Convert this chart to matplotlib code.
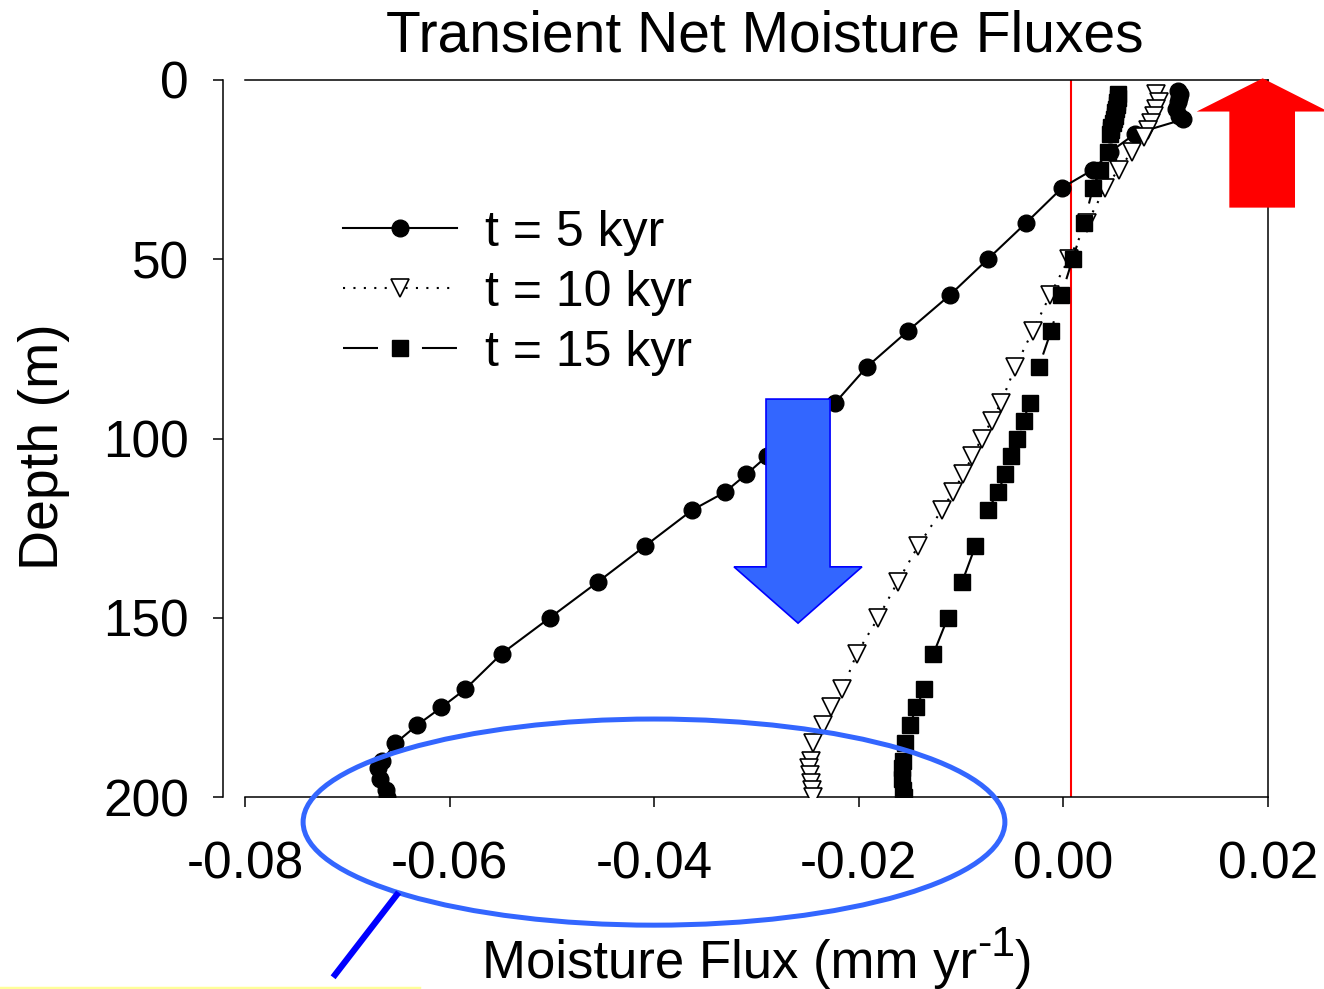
import matplotlib
matplotlib.use("Agg")
import matplotlib.pyplot as plt
from matplotlib.lines import Line2D
from matplotlib.patches import Ellipse, Polygon

plt.rcParams["font.family"] = ["Liberation Sans", "DejaVu Sans"]

# ---------------------------------------------------------------------------
# Data
# ---------------------------------------------------------------------------

t5_depth = [3, 4, 5, 6, 8, 10, 11, 15, 20, 25, 30, 40, 50, 60, 70, 80, 90,
            105, 110, 115, 120, 130, 140, 150, 160, 170, 175, 180, 185, 190,
            192, 195, 198, 200]
t5_flux = [0.0112, 0.0114, 0.0113, 0.0112, 0.0110, 0.0113, 0.0117, 0.0070,
           0.0046, 0.0029, -0.0001, -0.0037, -0.0074, -0.0111, -0.0152,
           -0.0192, -0.0223, -0.0290, -0.0310, -0.0331, -0.0363, -0.0409,
           -0.0455, -0.0502, -0.0549, -0.0585, -0.0608, -0.0632, -0.0653,
           -0.0666, -0.0670, -0.0668, -0.0662, -0.0661]

t10_depth = [4, 6, 8, 10, 12, 14, 16, 20, 25, 30, 40, 50, 60, 70, 80, 90, 95,
             100, 105, 110, 115, 120, 130, 140, 150, 160, 170, 175, 180, 185,
             190, 192, 194, 196, 198, 200]
t10_flux = [0.0091, 0.0093, 0.0091, 0.0089, 0.0086, 0.0083, 0.0079, 0.0067,
            0.0054, 0.0041, 0.0023, 0.0005, -0.0013, -0.0030, -0.0047,
            -0.0061, -0.0070, -0.0080, -0.0089, -0.0098, -0.0108, -0.0119,
            -0.0142, -0.0162, -0.0181, -0.0202, -0.0216, -0.0227, -0.0235,
            -0.0245, -0.0247, -0.0249, -0.0248, -0.0247, -0.0246, -0.0245]

t15_depth = [4, 5, 6, 7, 8, 9, 10, 11, 12, 13, 14, 15, 20, 25, 30, 40, 50, 60,
             70, 80, 90, 95, 100, 105, 110, 115, 120, 130, 140, 150, 160, 170,
             175, 180, 185, 190, 192, 195, 198, 200]
t15_flux = [0.0053, 0.0053, 0.0052, 0.0052, 0.0051, 0.0050, 0.0050, 0.0049,
            0.0048, 0.0047, 0.0047, 0.0046, 0.0044, 0.0036, 0.0029, 0.0020,
            0.0009, -0.0002, -0.0012, -0.0024, -0.0033, -0.0039, -0.0045,
            -0.0051, -0.0057, -0.0064, -0.0074, -0.0086, -0.0099, -0.0113,
            -0.0127, -0.0136, -0.0144, -0.0150, -0.0155, -0.0157, -0.0158,
            -0.0158, -0.0157, -0.0156]

x_ticks = [-0.08, -0.06, -0.04, -0.02, 0.00, 0.02]
y_ticks = [0, 50, 100, 150, 200]
zero_flux = 0.0007  # red reference line

# annotation shapes (data coordinates)
blue_arrow = [(-0.02907, 89.0), (-0.02281, 89.0), (-0.02281, 135.8),
              (-0.01969, 135.8), (-0.02594, 151.5), (-0.0322, 135.8),
              (-0.02907, 135.8)]
red_arrow = [(0.01622, 35.6), (0.02264, 35.6), (0.02264, 8.8), (0.0259, 8.8),
             (0.01948, -0.47), (0.01303, 8.8), (0.01622, 8.8)]

# ---------------------------------------------------------------------------
# Figure
# ---------------------------------------------------------------------------

W, H = 1324, 989
fig = plt.figure(figsize=(W / 100, H / 100), dpi=100)
ax = fig.add_axes([245 / W, 1 - 797 / H, (1268 - 245) / W, (797 - 80) / H])

ax.plot(t5_flux, t5_depth, "-", color="black", lw=1.5, marker="o", ms=12,
        mfc="black", mec="black", label="t = 5 kyr", zorder=3)
ax.plot(t10_flux, t10_depth, color="black", lw=1.5, ls=(0, (1, 4)),
        marker="v", ms=13.5, mfc="white", mec="black", mew=1.2,
        label="t = 10 kyr", zorder=3)
ax.plot(t15_flux, t15_depth, color="black", lw=1.5, ls=(0, (16.8, 21.1)),
        marker="s", ms=11.5, mfc="black", mec="black", label="t = 15 kyr",
        zorder=3)

ax.axvline(zero_flux, color="red", lw=1.5, zorder=2)

ax.set_xlim(-0.08, 0.02)
ax.set_ylim(200, 0)
ax.set_xticks(x_ticks)
ax.set_xticklabels([f"{v:.2f}" for v in x_ticks])
ax.set_yticks(y_ticks)

for s in ax.spines.values():
    s.set_linewidth(1.1)
ax.spines["left"].set_position(("outward", 15.5))
ax.tick_params(axis="both", direction="out", length=7, width=1.1,
               labelsize=37)
ax.tick_params(axis="x", pad=24)
ax.tick_params(axis="y", pad=18)
ax.tick_params(top=False, right=False)

leg = ax.legend(loc="center left", bbox_to_anchor=(0.0958, 0.703),
                frameon=False, fontsize=36, handlelength=2.28,
                handletextpad=0.56, labelspacing=0.28, borderpad=0,
                borderaxespad=0, numpoints=1)

# arrows, ellipse and pointer drawn over the plot
ax.add_patch(Polygon(blue_arrow, closed=True, facecolor="#3366FF",
                     edgecolor="#0000FF", lw=1.2, zorder=5))
ax.add_patch(Polygon(red_arrow, closed=True, facecolor="red",
                     edgecolor="red", lw=0, zorder=5, clip_on=False))
ax.add_patch(Ellipse((-0.04002, 207.0), 0.0686, 57.5, fill=False,
                     edgecolor="#3366FF", lw=3.6, zorder=6, clip_on=False))
ax.add_line(Line2D([-0.06517, -0.07120], [227.3, 249.6], color="#0000FF",
                   lw=4.5, zorder=6, clip_on=False))
fig.add_artist(Line2D([0, 419 / W], [1 - 988 / H, 1 - 988 / H],
                      color="#FFFF99", lw=2.5))

fig.text(765 / W, 1 - 52 / H, "Transient Net Moisture Fluxes", fontsize=41,
         ha="center", va="baseline")
fig.text(44 / W, 1 - 447 / H, "Depth (m)", fontsize=40, rotation=90,
         ha="center", va="center")

# x label with a plain-hyphen superscript, laid out piece by piece
renderer = fig.canvas.get_renderer()
base_y = 1 - 978 / H
parts = [("Moisture Flux (mm yr", 38, 0), ("-1", 31, 22), (")", 38, 0)]
widths = []
for txt, size, _ in parts:
    t = fig.text(0, 0, txt, fontsize=size)
    widths.append(t.get_window_extent(renderer).width)
    t.remove()
x = 757 - sum(widths) / 2
for (txt, size, rise), w in zip(parts, widths):
    fig.text(x / W, base_y + rise / H, txt, fontsize=size, va="baseline")
    x += w

fig.savefig("out.png", dpi=100)
